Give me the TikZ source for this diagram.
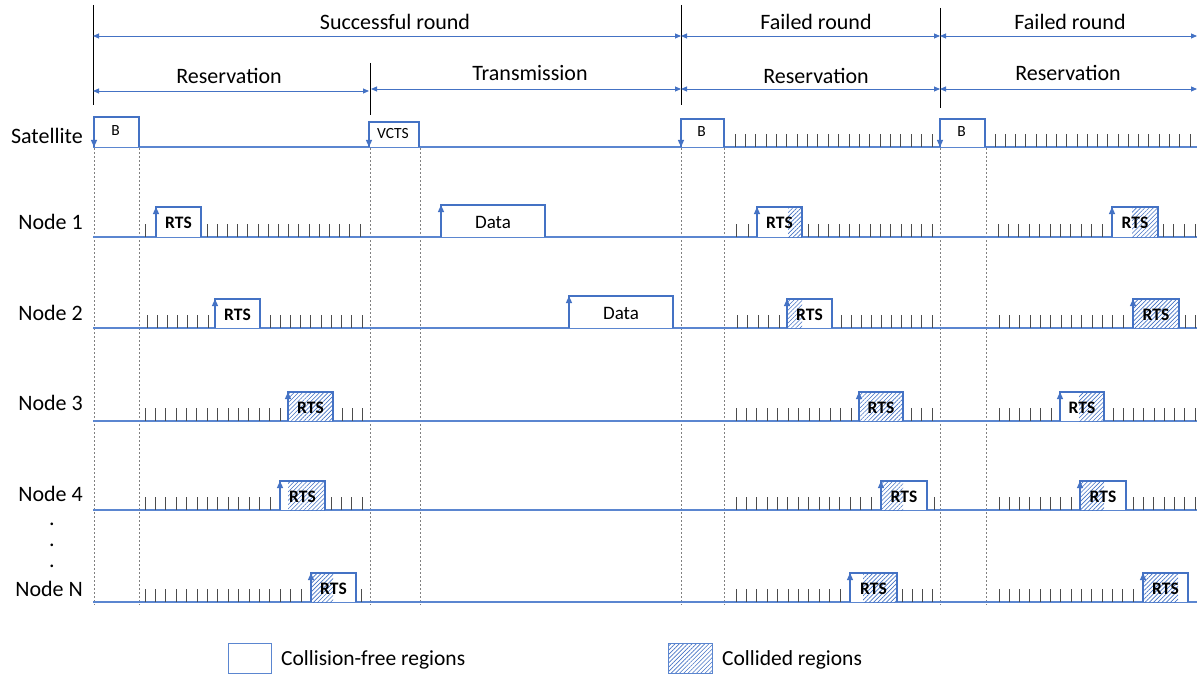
\documentclass[tikz,border=0pt]{standalone}
\usepackage{fontspec}
\setmainfont{Carlito}
\usetikzlibrary{arrows.meta,patterns.meta}
\definecolor{ob}{HTML}{4472C4}
\definecolor{obl}{HTML}{5B86D0}
\tikzset{
  baseln/.style={obl, line width=1.2pt},
  tk/.style={black!70, line width=1pt},
  vln/.style={black, line width=1pt},
  dln/.style={gray, dash pattern=on 2pt off 2pt, line width=0.7pt},
  hdr/.style={ob, line width=0.9pt, {Triangle[length=6pt,width=5pt]}-{Triangle[length=6pt,width=5pt]}},
  hatch/.style={pattern={Lines[angle=45,distance=3pt,line width=0.6pt]}, pattern color=ob},
  uparr/.style={ob, line width=1.2pt, -{Triangle[length=7pt,width=6pt]}},
  lbl/.style={font=\fontsize{22}{26}\selectfont, inner sep=0pt},
  lgf/.style={font=\fontsize{21.5}{26}\selectfont, inner sep=0pt},
  rtsf/.style={font=\fontsize{17.5}{20}\selectfont\bfseries, inner sep=0pt},
  dataf/.style={font=\fontsize{19}{22}\selectfont, inner sep=0pt},
  satf/.style={font=\fontsize{15.5}{18}\selectfont, inner sep=0pt},
}
\newcommand{\mytks}[4]{\foreach \k in {0,...,#4} \draw[tk] ({#2+(#3-#2)*\k/#4},#1) -- ++(0,-13);}
% name, x0, x1, hatch0, hatch1, base, top, style, text
\newcommand{\mypkt}[9]{%
  \fill[white] (#2,#6) rectangle (#3,#7);
  \fill[hatch] (#4,#6) rectangle (#5,#7);
  \draw[ob,line width=1.2pt] (#2,#6) -- (#2,#7) -- (#3,#7) -- (#3,#6);
  \draw[uparr] (#2,#6) -- (#2,#7);
  \node[#8] (#1) at ({(#2+#3)/2},{(#6+#7)/2+1}) {#9};
}
% name, x0, x1, top, text
\newcommand{\satpkt}[5]{%
  \fill[white] (#2,147) rectangle (#3,#4);
  \draw[ob,line width=1.2pt] (#2,147) -- (#2,#4) -- (#3,#4) -- (#3,147);
  \draw[ob,line width=1.2pt,-{Triangle[length=7pt,width=6pt]}] (#2,#4) -- (#2,147);
  \node[satf] (#1) at ({(#2+#3)/2-1},{(147+#4)/2-1}) {#5};
}
\begin{document}
\begin{tikzpicture}[x=1pt,y=-1pt]
\useasboundingbox (0,0) rectangle (1200,674);
% header vertical lines
\coordinate (v1t) at (93,5);   \coordinate (v1b) at (93,105);
\coordinate (v2t) at (370,63); \coordinate (v2b) at (370,115);
\coordinate (v3t) at (681,5);  \coordinate (v3b) at (681,105);
\coordinate (v4t) at (940,8);  \coordinate (v4b) at (940,108);
\draw[vln] (v1t) -- (v1b);
\draw[vln] (v2t) -- (v2b);
\draw[vln] (v3t) -- (v3b);
\draw[vln] (v4t) -- (v4b);
% header arrows
\coordinate (a1) at (93,36); \coordinate (a2) at (681,36);
\coordinate (a3) at (940,36); \coordinate (a4) at (1197,36);
\draw[hdr] (a1) -- (a2);
\draw[hdr] (a2) -- (a3);
\draw[hdr] (a3) -- (a4);
\coordinate (b1) at (93,91); \coordinate (b2) at (369,91);
\coordinate (b3) at (371,89); \coordinate (b4) at (681,89);
\coordinate (b5) at (681,89); \coordinate (b6) at (940,89);
\coordinate (b7) at (940,89); \coordinate (b8) at (1197,89);
\draw[hdr] (b1) -- (b2);
\draw[hdr] (b3) -- (b4);
\draw[hdr] (b5) -- (b6);
\draw[hdr] (b7) -- (b8);
\node[lbl] (succ) at (395,22) {Successful round};
\node[lbl] (fail1) at (816,22) {Failed round};
\node[lbl] (fail2) at (1070,22) {Failed round};
\node[lbl] (res1) at (229,76) {Reservation};
\node[lbl] (trans) at (530,73) {Transmission};
\node[lbl] (res2) at (816,76) {Reservation};
\node[lbl] (res3) at (1068,73) {Reservation};
% row labels
\node[lbl, anchor=east] (lsat) at (83,136) {Satellite};
\node[lbl, anchor=east] (ln1) at (83,222) {Node 1};
\node[lbl, anchor=east] (ln2) at (83,313) {Node 2};
\node[lbl, anchor=east] (ln3) at (83,403) {Node 3};
\node[lbl, anchor=east] (ln4) at (83,494) {Node 4};
\node[lbl, anchor=east] (lnN) at (83,589) {Node N};
\node[lbl, anchor=base] (d1) at (52,525) {.};
\node[lbl, anchor=base] (d2) at (52,546) {.};
\node[lbl, anchor=base] (d3) at (52,567) {.};
% dashed guide lines
\foreach \x in {94,139,370,420,681,724,940,986} \draw[dln] (\x,148) -- (\x,605);
% baselines
\foreach \y in {147,237,328,421,510,602} \draw[baseln] (93,\y) -- (1197,\y);
% satellite
\satpkt{sb1}{94}{139}{117}{B}
\satpkt{vcts}{369}{419}{122}{VCTS}
\satpkt{sb3}{681}{724}{119}{B}
\satpkt{sb4}{940}{985}{119}{B}
\mytks{147}{735}{932}{19}
\mytks{147}{995}{1190}{19}
% node 1
\draw[tk] (145,237) -- ++(0,-13);
\mytks{237}{207}{360}{15}
\mytks{237}{736}{748}{1}
\mytks{237}{808}{932}{12}
\mytks{237}{998}{1102}{10}
\mytks{237}{1163}{1195}{3}
\mypkt{r1a}{156}{201}{156}{156}{237}{207}{rtsf}{RTS}
\mypkt{dat1}{441}{545}{441}{441}{237}{205}{dataf}{Data}
\mypkt{r1c}{757}{802}{788}{802}{237}{207}{rtsf}{RTS}
\mypkt{r1d}{1112}{1158}{1132}{1158}{237}{207}{rtsf}{RTS}
% node 2
\mytks{328}{147}{208}{6}
\mytks{328}{270}{362}{9}
\mytks{328}{737}{779}{4}
\mytks{328}{841}{932}{9}
\mytks{328}{999}{1123}{12}
\mytks{328}{1185}{1195}{1}
\mypkt{r2a}{215}{260}{215}{215}{328}{299}{rtsf}{RTS}
\mypkt{dat2}{569}{673}{569}{569}{328}{296}{dataf}{Data}
\mypkt{r2c}{787}{832}{787}{802}{328}{299}{rtsf}{RTS}
\mypkt{r2d}{1133}{1179}{1133}{1179}{328}{299}{rtsf}{RTS}
% node 3
\mytks{421}{145}{280}{13}
\mytks{421}{342}{362}{2}
\mytks{421}{736}{851}{11}
\mytks{421}{911}{932}{2}
\mytks{421}{999}{1051}{5}
\mytks{421}{1113}{1195}{8}
\mypkt{r3a}{288}{333}{288}{333}{421}{392}{rtsf}{RTS}
\mypkt{r3c}{859}{903}{859}{903}{421}{392}{rtsf}{RTS}
\mypkt{r3d}{1060}{1104}{1079}{1104}{421}{392}{rtsf}{RTS}
% node 4
\mytks{510}{145}{270}{12}
\mytks{510}{331}{362}{3}
\mytks{510}{736}{871}{13}
\draw[tk] (934,510) -- ++(0,-13);
\mytks{510}{999}{1071}{7}
\mytks{510}{1133}{1195}{6}
\mypkt{r4a}{280}{325}{288}{325}{510}{481}{rtsf}{RTS}
\mypkt{r4c}{881}{927}{881}{903}{510}{481}{rtsf}{RTS}
\mypkt{r4d}{1080}{1126}{1080}{1104}{510}{481}{rtsf}{RTS}
% node N
\mytks{602}{145}{301}{15}
\draw[tk] (361,602) -- ++(0,-13);
\mytks{602}{736}{840}{10}
\mytks{602}{902}{932}{3}
\mytks{602}{999}{1133}{13}
\mypkt{rNa}{311}{356}{311}{333}{602}{573}{rtsf}{RTS}
\mypkt{rNc}{850}{897}{863}{897}{602}{573}{rtsf}{RTS}
\mypkt{rNd}{1143}{1188}{1143}{1178}{602}{573}{rtsf}{RTS}
% legend
\draw[obl, line width=0.8pt, fill=white] (228,643) rectangle (271,673);
\node[lgf, anchor=west] (lg1) at (281,660) {Collision-free regions};
\fill[hatch] (668,643) rectangle (712,673);
\draw[obl, line width=0.8pt] (668,643) rectangle (712,673);
\node[lgf, anchor=west] (lg2) at (722,660) {Collided regions};
\end{tikzpicture}
\end{document}
